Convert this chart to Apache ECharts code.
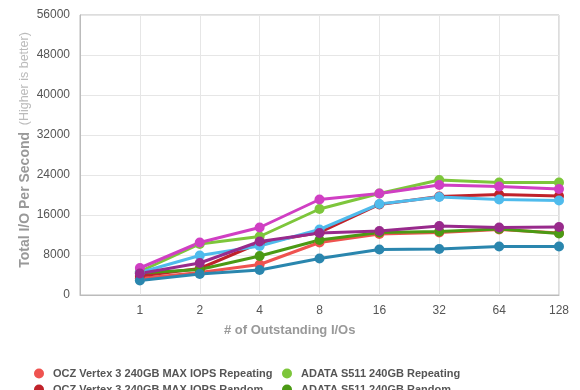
<!DOCTYPE html>
<html>
<head>
<meta charset="utf-8">
<script src="https://cdn.jsdelivr.net/npm/echarts@6/dist/echarts.min.js"></script>
<style>html,body{margin:0;padding:0;background:#fff}#c{width:580px;height:390px}</style>
</head>
<body>
<div id="c"></div>
<script>
var categories = ['', '1', '2', '4', '8', '16', '32', '64', '128'];
var yTicks = [0, 8000, 16000, 24000, 32000, 40000, 48000, 56000];

var seriesNames = [
  'OCZ Vertex 3 240GB MAX IOPS Repeating',
  'OCZ Vertex 3 240GB MAX IOPS Random',
  'ADATA S511 240GB Repeating',
  'ADATA S511 240GB Random',
  'Corsair Force GT 240GB Repeating',
  'Corsair Force GT 240GB Random',
  'Intel SSD 520 240GB Repeating',
  'Intel SSD 520 240GB Random'
];
var seriesColors = ['#ef5350', '#c0222a', '#7dc63b', '#4b9a14', '#4fbbec', '#2a86ae', '#d03fc3', '#982a8c'];

var ocz3Repeating   = [null, 3300, 4500, 6100, 10500, 12200, 12500, 13100, 12400];
var ocz3Random      = [null, 3800, 5300, 10400, 12500, 18100, 19700, 20100, 19800];
var adataRepeating  = [null, 4700, 10200, 11700, 17200, 20300, 23000, 22500, 22500];
var adataRandom     = [null, 4400, 5100, 7800, 11000, 12500, 12700, 13200, 12300];
var corsairRepeating= [null, 4500, 7900, 9800, 13100, 18200, 19600, 19100, 18900];
var corsairRandom   = [null, 2900, 4200, 5000, 7300, 9100, 9200, 9700, 9700];
var intelRepeating  = [null, 5400, 10500, 13500, 19100, 20300, 22000, 21700, 21200];
var intelRandom     = [null, 4300, 6400, 10700, 12400, 12800, 13800, 13500, 13600];

var seriesData = [ocz3Repeating, ocz3Random, adataRepeating, adataRandom,
                  corsairRepeating, corsairRandom, intelRepeating, intelRandom];

var chart = echarts.init(document.getElementById('c'));
var font = '"Liberation Sans", Arial, Helvetica, sans-serif';

var series = seriesNames.map(function (n, i) {
  return {
    name: n,
    type: 'line',
    data: seriesData[i],
    symbol: 'circle',
    symbolSize: 10,
    lineStyle: { width: 3, color: seriesColors[i] },
    itemStyle: { color: seriesColors[i] },
    connectNulls: false,
    animation: false
  };
});

var legendCommon = {
  orient: 'vertical',
  top: 363,
  height: 120,
  icon: 'circle',
  itemWidth: 18,
  itemHeight: 10,
  itemGap: 5,
  textStyle: { fontFamily: font, fontSize: 11, fontWeight: 'bold', color: '#555' }
};

chart.setOption({
  animation: false,
  color: seriesColors,
  grid: { left: 80, right: 21, top: 15, bottom: 95, show: true, borderColor: '#bbb', borderWidth: 1 },
  xAxis: {
    type: 'category',
    data: categories,
    boundaryGap: false,
    axisLine: { lineStyle: { color: '#bbb' } },
    axisTick: { show: false },
    axisLabel: { color: '#555', fontFamily: font, fontSize: 12, margin: 10 },
    splitLine: { show: true, lineStyle: { color: '#e6e6e6' } }
  },
  yAxis: {
    type: 'value',
    min: 0,
    max: 56000,
    interval: 8000,
    axisLine: { show: true, lineStyle: { color: '#bbb' } },
    axisTick: { show: false },
    axisLabel: {
      color: '#555', fontFamily: font, fontSize: 12, margin: 10,
      formatter: function (v) { return yTicks.indexOf(v) >= 0 ? String(v) : ''; }
    },
    splitLine: { lineStyle: { color: '#e6e6e6' } }
  },
  graphic: [{
    type: 'text',
    left: 224,
    top: 324,
    style: { text: '# of Outstanding I/Os', fill: '#999', font: 'bold 13px ' + font }
  }, {
    type: 'text',
    x: 25,
    y: 150,
    rotation: Math.PI / 2,
    style: {
      text: '{a|Total I/O Per Second}  {b|(Higher is better)}',
      align: 'center',
      verticalAlign: 'middle',
      rich: {
        a: { fontFamily: font, fontSize: 14, fontWeight: 'bold', fill: '#999', color: '#999' },
        b: { fontFamily: font, fontSize: 12.5, fill: '#bbb', color: '#bbb' }
      }
    }
  }],
  legend: [
    Object.assign({ left: 29, data: [seriesNames[0], seriesNames[1], seriesNames[4], seriesNames[6]] }, legendCommon),
    Object.assign({ left: 277, data: [seriesNames[2], seriesNames[3], seriesNames[5], seriesNames[7]] }, legendCommon)
  ],
  series: series
});
</script>
</body>
</html>
